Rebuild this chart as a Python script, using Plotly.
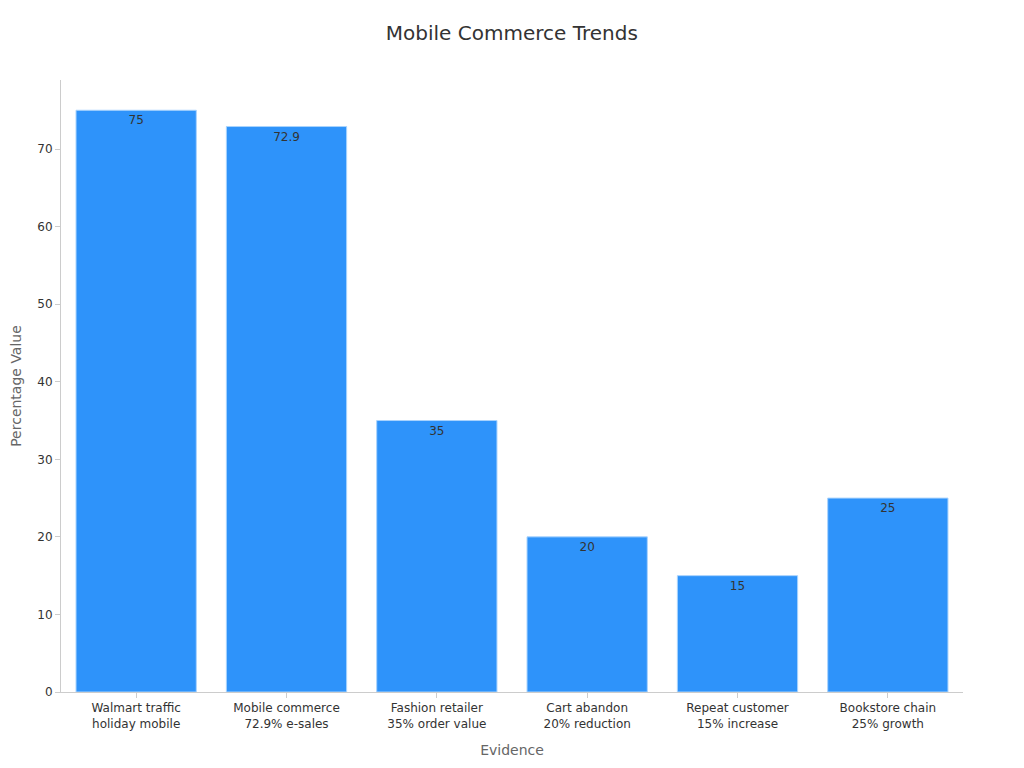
import plotly.graph_objects as go

# datos
categories = [
    "Walmart traffic<br>holiday mobile",
    "Mobile commerce<br>72.9% e-sales",
    "Fashion retailer<br>35% order value",
    "Cart abandon<br>20% reduction",
    "Repeat customer<br>15% increase",
    "Bookstore chain<br>25% growth",
]
values = [75, 72.9, 35, 20, 15, 25]
y_ticks = [0, 10, 20, 30, 40, 50, 60, 70]

fig = go.Figure(go.Bar(
    x=categories,
    y=values,
    text=[str(v) for v in values],
    textposition="inside",
    insidetextanchor="end",
    textfont=dict(size=12, color="#333333"),
    marker=dict(color="#2E93FA", line=dict(color="#A9D3FD", width=1)),
))

# la página tiene 8px de margen en el body: se compensa en los márgenes
fig.update_layout(
    title=dict(text="Mobile Commerce Trends", x=0.492, y=0.967, xanchor="center",
               yanchor="middle", font=dict(size=20, color="#333333")),
    font=dict(family="DejaVu Sans", size=12, color="#333333"),
    plot_bgcolor="white",
    paper_bgcolor="white",
    width=1024, height=768,
    margin=dict(l=53, r=69, t=72, b=84),
    bargap=0.2,
    showlegend=False,
)

fig.update_xaxes(
    title=dict(text="Evidence", font=dict(size=14, color="#666666")),
    showline=True, linecolor="#CCCCCC", linewidth=1,
    ticks="outside", tickcolor="#CCCCCC", ticklen=5,
    showgrid=False, automargin=False,
)
fig.update_yaxes(
    title=dict(text="Percentage Value", font=dict(size=14, color="#666666")),
    range=[0, 78.9],
    tickvals=y_ticks,
    showline=True, linecolor="#CCCCCC", linewidth=1,
    ticks="outside", tickcolor="#CCCCCC", ticklen=5,
    showgrid=False, zeroline=False, automargin=False,
)

fig.write_html("out.html")
